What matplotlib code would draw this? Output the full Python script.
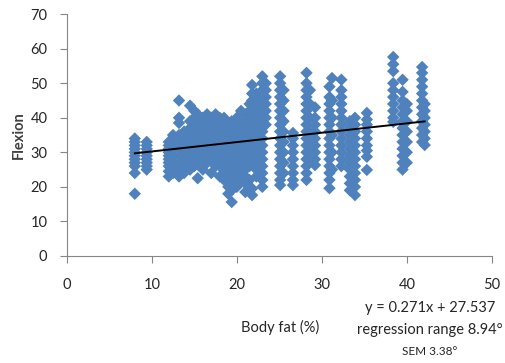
import matplotlib
matplotlib.use("Agg")
import matplotlib.pyplot as plt
import numpy as np

plt.rcParams['font.family'] = ['Lato', 'DejaVu Sans']

# --- DATA (one column of points per body fat value) ---
col_x = [8.0, 9.4, 12.0, 12.5, 13.2, 13.8, 14.5, 15.0, 15.4, 16.0, 16.5, 17.0,
         17.5, 18.0, 18.5, 19.0, 19.4, 20.0, 20.5, 21.0, 21.5, 21.8, 22.3, 23.0,
         23.4, 25.1, 25.5, 26.6, 28.2, 28.6, 29.2, 30.9, 31.2, 32.3, 33.3, 33.9,
         35.3, 38.4, 39.5, 40.0, 41.8, 42.1]
col_y = [
    [18, 24, 26, 27, 28, 29, 30, 31, 32, 33, 34],
    [25, 26, 27, 28, 29, 30, 31, 32, 33],
    [23, 24.5, 26, 27, 28, 29, 30, 31, 32, 33],
    [24, 25, 27, 29, 31, 33, 35],
    [23, 25, 27, 29, 31, 33, 35, 38.5, 40, 45],
    [24, 26, 28, 30, 32, 34, 36],
    [25, 27, 29, 31, 33, 35, 37, 39, 43.5],
    [26, 28, 30, 32, 34, 36, 38, 40, 42],
    [22.5, 27, 29, 31, 33, 35, 37, 39, 41],
    [25, 28, 30, 32, 34, 36, 38, 40],
    [27, 29, 31, 33, 35, 37, 39, 41],
    [24, 28, 30, 32, 34, 36, 38, 40],
    [26, 28, 30, 32, 34, 36, 39, 41],
    [23, 26, 28, 30, 32, 34, 36, 38, 40],
    [22, 24, 26, 28, 30, 32, 34, 36, 38, 40],
    [18, 20, 22, 24, 26, 28, 30, 32, 34, 36, 38],
    [15.6, 19, 21, 23, 25, 27, 29, 31, 33, 35, 37, 39],
    [20, 22, 24, 26, 28, 30, 32, 34, 36, 38, 40],
    [22, 24, 26, 28, 30, 32, 34, 36, 38, 42],
    [18.5, 21, 23, 25, 27, 29, 31, 33, 35, 37, 39, 41],
    [20, 22, 26, 28, 30, 32, 34, 36, 38, 40, 42, 44],
    [17.6, 19.5, 45, 47, 49.5],
    [23, 25, 27, 29, 31, 33, 35, 37, 39, 41, 43, 45, 47],
    [20, 22, 24, 26, 28, 30, 32, 34, 36, 38, 40, 42, 44, 46, 48, 50, 52],
    [38, 40, 42, 44, 46, 48, 50],
    [20.5, 22, 24, 26, 28, 30, 32, 34, 36, 38, 40, 42, 44, 46, 48, 50, 52],
    [24, 27, 30, 33, 36, 39, 42, 45, 48],
    [20.5, 22, 24, 26, 28, 30, 32, 34, 35.6],
    [22, 24, 26, 28, 30, 32, 34, 36, 38, 40, 42, 44, 46, 48, 50, 53],
    [28, 32, 36, 40, 44, 48],
    [26.3, 28, 30, 32, 34, 36, 38, 40, 43],
    [19.6, 22, 24, 26, 28, 30, 32, 34, 36, 38, 40, 42, 44, 46, 49],
    [25, 30, 35, 40, 45, 51.5],
    [26, 28, 30, 32, 34, 36, 38, 40, 42, 44, 46, 48, 51],
    [19, 21, 23, 25, 27, 29, 31, 33, 35, 37, 39],
    [17.6, 20, 22, 24, 26, 28, 30, 32, 34, 36, 38, 40],
    [24.9, 28.7, 30.5, 32, 34, 36, 38, 39.5, 41.4],
    [38.8, 40, 42, 44, 46, 48, 50, 53.5, 55.5, 57.6],
    [25, 27, 29, 31, 33, 35, 37, 39, 41, 43, 45, 47.5, 51],
    [27, 30, 33, 36, 39, 42, 44],
    [33, 35, 37, 39, 41, 43, 45, 47, 49, 51, 53, 54.7],
    [32.1, 34, 36, 38, 40, 42, 44],
]

slope = 0.271
intercept = 27.537

body_fat = np.concatenate([[x] * len(ys) for x, ys in zip(col_x, col_y)])
flexion = np.concatenate(col_y)

fig = plt.figure(figsize=(5.06, 3.63), dpi=100)
ax = fig.add_axes([0.132, 0.295, 0.840, 0.666])

ax.scatter(body_fat, flexion, marker='D', s=40, color='#4F81BD',
           edgecolors='none', zorder=2)

line_x = np.array([body_fat.min(), body_fat.max()])
ax.plot(line_x, slope * line_x + intercept, color='black', lw=1.4, zorder=3)

ax.set_xlim(0, 50)
ax.set_ylim(0, 70)
ax.set_xticks(range(0, 51, 10))
ax.set_yticks(range(0, 71, 10))

for side in ['top', 'right']:
    ax.spines[side].set_visible(False)
for side in ['left', 'bottom']:
    ax.spines[side].set_color('#868686')
ax.tick_params(colors='#868686', labelcolor='#262626', labelsize=10.5,
               length=5, direction='out')
ax.tick_params(axis='x', pad=11)
ax.tick_params(axis='y', pad=9)

ax.set_ylabel('Flexion', fontsize=10.5, fontweight='bold', color='#404040',
              labelpad=3)
fig.text(0.553, 0.085, 'Body fat (%)', fontsize=10.5, ha='center',
         color='#262626')
fig.text(0.85, 0.14, 'y = 0.271x + 27.537', fontsize=10.5, ha='center',
         color='#262626')
fig.text(0.85, 0.08, 'regression range 8.94°', fontsize=10.5, ha='center',
         color='#262626')
fig.text(0.85, 0.022, 'SEM 3.38°', fontsize=8.5, ha='center', color='#262626')

fig.savefig('out.png', dpi=100)
